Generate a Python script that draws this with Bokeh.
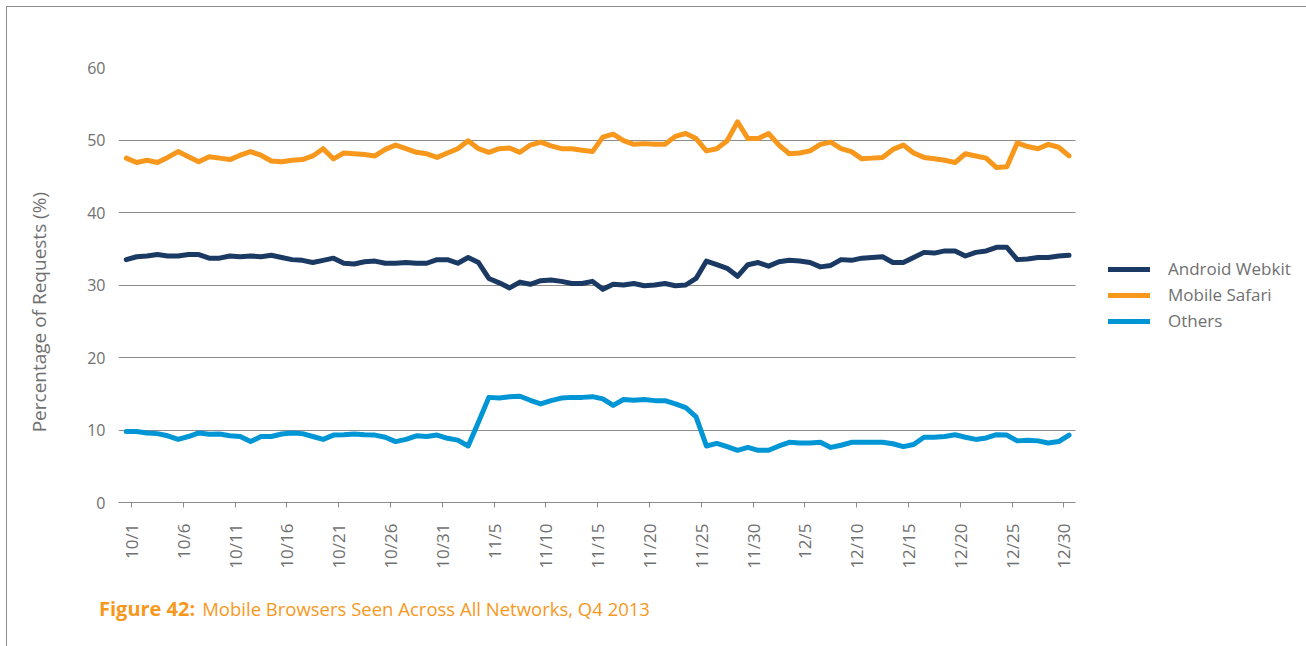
import numpy as np
from bokeh.plotting import figure
from bokeh.layouts import column
from bokeh.models import FixedTicker, Legend, LegendItem, Div
from bokeh.embed import file_html
from bokeh.resources import INLINE

# Day index 0 = 10/1 ... 91 = 12/31 (Q4 2013)
days = list(range(92))

tick_days = [0, 5, 10, 15, 20, 25, 30, 35, 40, 45, 50, 55, 60, 65, 70, 75, 80, 85, 90]
tick_labels = ["10/1", "10/6", "10/11", "10/16", "10/21", "10/26", "10/31",
               "11/5", "11/10", "11/15", "11/20", "11/25", "11/30",
               "12/5", "12/10", "12/15", "12/20", "12/25", "12/30"]

android_webkit = [33.5, 33.9, 34.0, 34.2, 34.0, 34.0, 34.2, 34.2, 33.7, 33.7, 34.0, 33.9, 34.0, 33.9, 34.1, 33.8,
                  33.5, 33.4, 33.1, 33.4, 33.7, 33.0, 32.9, 33.2, 33.3, 33.0, 33.0, 33.1, 33.0, 33.0, 33.5,
                  33.5, 33.0, 33.8, 33.1, 30.9, 30.3, 29.6, 30.4, 30.1, 30.6, 30.7, 30.5, 30.2, 30.2, 30.5,
                  29.4, 30.1, 30.0, 30.2, 29.9, 30.0, 30.2, 29.9, 30.0, 30.9, 33.3, 32.8, 32.3, 31.2, 32.8,
                  33.1, 32.6,
                  33.2, 33.4, 33.3, 33.1, 32.5, 32.7, 33.5, 33.4, 33.7, 33.8, 33.9, 33.1, 33.1, 33.8, 34.5,
                  34.4, 34.7, 34.7, 34.0, 34.5, 34.7, 35.2, 35.2, 33.5, 33.6, 33.8, 33.8, 34.0, 34.1]

mobile_safari = [47.5, 46.9, 47.2, 46.9, 47.6, 48.4, 47.7, 47.0, 47.7, 47.5, 47.3, 47.9, 48.4, 47.9, 47.1, 47.0,
                 47.2, 47.3, 47.8, 48.8, 47.4, 48.2, 48.1, 48.0, 47.8, 48.7, 49.3, 48.8, 48.3, 48.1, 47.6,
                 48.2, 48.8, 49.9, 48.8, 48.3, 48.8, 48.9, 48.3, 49.3, 49.7, 49.2, 48.8, 48.8, 48.6, 48.4,
                 50.4, 50.8, 49.9, 49.4, 49.5, 49.4, 49.4, 50.5, 50.9, 50.2, 48.5, 48.8, 49.9, 52.5, 50.2,
                 50.2, 50.9,
                 49.3, 48.1, 48.2, 48.5, 49.4, 49.7, 48.8, 48.4, 47.4, 47.5, 47.6, 48.7, 49.3, 48.2, 47.6,
                 47.4, 47.2, 46.9, 48.1, 47.8, 47.5, 46.2, 46.3, 49.6, 49.1, 48.8, 49.4, 49.0, 47.8]

others = [9.8, 9.8, 9.6, 9.5, 9.2, 8.7, 9.1, 9.6, 9.4, 9.45, 9.2, 9.1, 8.4, 9.1, 9.1, 9.45,
          9.6, 9.5, 9.1, 8.7, 9.3, 9.35, 9.45, 9.35, 9.3, 9.0, 8.4, 8.7, 9.2, 9.1, 9.3,
          8.85, 8.6, 7.8, 11.1, 14.5, 14.4, 14.6, 14.65, 14.1, 13.6, 14.05, 14.4, 14.5, 14.5, 14.6,
          14.3, 13.4, 14.2, 14.1, 14.2, 14.05, 14.05, 13.6, 13.1, 11.8, 7.8, 8.15, 7.7, 7.2, 7.6,
          7.2, 7.2,
          7.8, 8.3, 8.2, 8.2, 8.3, 7.6, 7.9, 8.3, 8.3, 8.3, 8.3, 8.1, 7.7, 8.0, 9.0,
          9.0, 9.1, 9.35, 9.0, 8.7, 8.9, 9.35, 9.3, 8.5, 8.6, 8.5, 8.2, 8.4, 9.3]

series_names = ["Android Webkit", "Mobile Safari", "Others"]
series_colors = ["#1b3a63", "#f7981d", "#0096d6"]

y_ticks = [0, 10, 20, 30, 40, 50, 60]

caption_bold = "Figure 42:"
caption_text = "Mobile Browsers Seen Across All Networks, Q4 2013"

GRAY = "#8c8c8c"
TEXT = "#707070"
ORANGE = "#f7981d"
FONT = "Open Sans"
W = 1295
LEFT = 111
X0, X1 = -0.75, 91.6          # extent of the data area (category units)
PX_PER_DAY = 10.36
x_end = X0 + (W - LEFT) / PX_PER_DAY   # frame continues right to hold the legend

p = figure(width=W, height=578, x_range=(X0, x_end), y_range=(0, 60),
           output_backend="svg", toolbar_location=None,
           min_border_left=LEFT, min_border_right=0, min_border_top=60, min_border_bottom=83)
p.outline_line_color = None
p.background_fill_color = "white"
p.border_fill_color = "white"

p.xgrid.visible = False
p.ygrid.grid_line_color = GRAY
p.ygrid.grid_line_width = 1
p.ygrid.ticker = FixedTicker(ticks=y_ticks)
p.ygrid.cross_bounds = (X0, X1)

# y axis
p.yaxis.ticker = FixedTicker(ticks=y_ticks)
p.yaxis.axis_line_color = None
p.yaxis.major_tick_line_color = None
p.yaxis.minor_tick_line_color = None
p.yaxis.major_tick_out = 0
p.yaxis.major_tick_in = 0
p.yaxis.major_label_standoff = 13
p.yaxis.major_label_text_font = FONT
p.yaxis.major_label_text_font_size = "16px"
p.yaxis.major_label_text_color = TEXT
p.yaxis.axis_label = "Percentage of Requests (%)" + "\u00a0" * 11
p.yaxis.axis_label_text_font = FONT
p.yaxis.axis_label_text_font_style = "normal"
p.yaxis.axis_label_text_font_size = "19px"
p.yaxis.axis_label_text_color = TEXT
p.yaxis.axis_label_standoff = 32

# x axis: tick marks and labels sit half a day after the labelled day
tick_pos = [d + 0.5 for d in tick_days]
p.xaxis.ticker = FixedTicker(ticks=tick_pos)
p.xaxis.bounds = (X0, X1)
p.xaxis.major_label_overrides = {t: lab for t, lab in zip(tick_pos, tick_labels)}
p.xaxis.major_label_orientation = np.pi / 2
p.xaxis.axis_line_color = GRAY
p.xaxis.major_tick_line_color = GRAY
p.xaxis.major_tick_out = 5
p.xaxis.major_tick_in = 0
p.xaxis.minor_tick_line_color = None
p.xaxis.major_label_standoff = 16
p.xaxis.major_label_text_font = FONT
p.xaxis.major_label_text_font_size = "17px"
p.xaxis.major_label_text_color = TEXT

renderers = []
for vals, color in zip([android_webkit, mobile_safari, others], series_colors):
    r = p.line(days, vals, line_color=color, line_width=5, line_cap="round", line_join="round")
    renderers.append(r)

legend = Legend(items=[LegendItem(label=n, renderers=[r]) for n, r in zip(series_names, renderers)],
                location=(990, 170), orientation="vertical",
                glyph_width=42, glyph_height=20, label_height=20, spacing=3,
                padding=0, margin=0, label_standoff=18,
                border_line_color=None, background_fill_alpha=0,
                label_text_font=FONT, label_text_font_size="17px", label_text_color=TEXT)
p.add_layout(legend)

caption = Div(
    text=(f'<div style="font-family:\'Open Sans\';color:{ORANGE};font-size:18.5px;'
          f'padding:5px 0 0 87px;white-space:nowrap;">'
          f'<span style="font-weight:700;font-size:20px;">{caption_bold}</span>'
          f'<span style="margin-left:7px;">{caption_text}</span></div>'),
    width=W, height=54)

layout = column(p, caption, spacing=0)
layout.styles = {"border-left": "1px solid #8c8c8c", "border-top": "1px solid #8c8c8c",
                 "margin-left": "6px", "margin-top": "6px"}

open("out.html", "w").write(file_html(layout, INLINE))
